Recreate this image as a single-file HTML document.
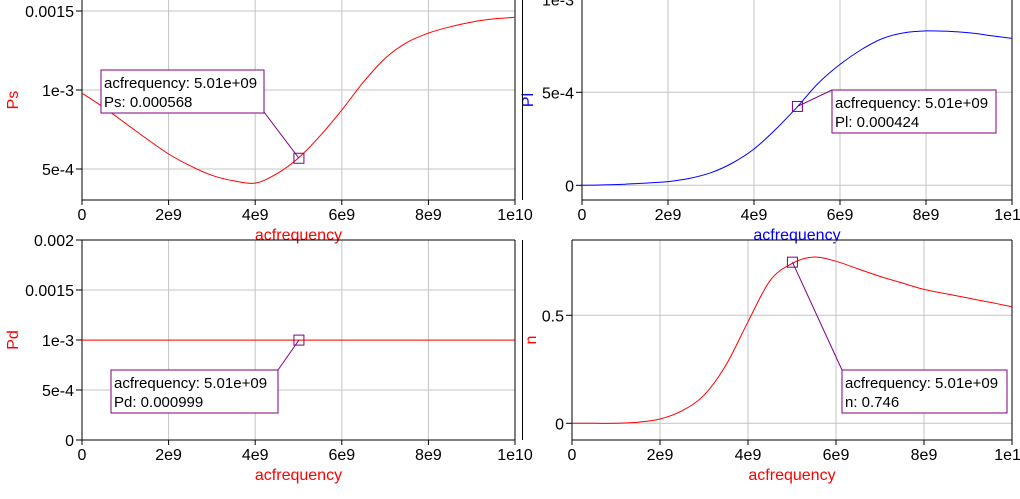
<!DOCTYPE html>
<html><head><meta charset="utf-8">
<style>
html,body{margin:0;padding:0;background:#fff;}
svg{display:block;font-family:"Liberation Sans",Arial,sans-serif;}
</style></head>
<body>
<svg id="chart" width="1020" height="499" viewBox="0 0 1020 499" xmlns="http://www.w3.org/2000/svg"></svg>
<script>
const xCategories = [0,0.5,1,1.5,2,2.5,3,3.5,4,4.5,5,5.5,6,6.5,7,7.5,8,8.5,9,9.5,10]; // GHz
const psValues = [0.00098,0.00089,0.00079,0.00069,0.000595,0.00052,0.00046,0.000425,0.000411,0.00047,0.00057,0.00071,0.000873,0.00105,0.0012,0.0013,0.00136,0.0014,0.00143,0.00145,0.00146];
const plValues = [0,0.000002,0.000006,0.000012,0.00002,0.000037,0.000068,0.00012,0.000195,0.0003,0.00042,0.00055,0.00065,0.00073,0.00079,0.00082,0.00083,0.000828,0.00082,0.000805,0.00079];
const pdValues = [0.000999,0.000999,0.000999,0.000999,0.000999,0.000999,0.000999,0.000999,0.000999,0.000999,0.000999,0.000999,0.000999,0.000999,0.000999,0.000999,0.000999,0.000999,0.000999,0.000999,0.000999];
const nValues = [0,0,0,0.005,0.02,0.058,0.13,0.27,0.47,0.66,0.74,0.77,0.75,0.715,0.68,0.65,0.62,0.6,0.58,0.56,0.54];
const xTickValues = [0,2,4,6,8,10];
const xTickLabels = ["0","2e9","4e9","6e9","8e9","1e10"];
const psTicks = [0.0005,0.001,0.0015], psTickLabels = ["5e-4","1e-3","0.0015"];
const plTicks = [0,0.0005,0.001], plTickLabels = ["0","5e-4","1e-3"];
const pdTicks = [0,0.0005,0.001,0.0015,0.002], pdTickLabels = ["0","5e-4","1e-3","0.0015","0.002"];
const nTicks = [0,0.5], nTickLabels = ["0","0.5"];
const markerX = 5.01;
const psMarker = 0.000568, plMarker = 0.000424, pdMarker = 0.000999, nMarker = 0.746;

const NS="http://www.w3.org/2000/svg";
const svg=document.getElementById('chart');
function mk(tag,attrs,parent){const e=document.createElementNS(NS,tag);for(const k in attrs)e.setAttribute(k,attrs[k]);(parent||svg).appendChild(e);return e;}
function smooth(P){
  let d='M'+P[0][0].toFixed(1)+','+P[0][1].toFixed(1);
  for(let i=0;i<P.length-1;i++){
    const p0=P[Math.max(0,i-1)],p1=P[i],p2=P[i+1],p3=P[Math.min(P.length-1,i+2)];
    const c1=[p1[0]+(p2[0]-p0[0])/6,p1[1]+(p2[1]-p0[1])/6];
    const c2=[p2[0]-(p3[0]-p1[0])/6,p2[1]-(p3[1]-p1[1])/6];
    d+=' C'+c1[0].toFixed(1)+','+c1[1].toFixed(1)+' '+c2[0].toFixed(1)+','+c2[1].toFixed(1)+' '+p2[0].toFixed(1)+','+p2[1].toFixed(1);
  }
  return d;
}

function panel(p){
  const g=mk('g',{});
  
  
  const sx=v=>p.x0+(v-0)/10*(p.x1-p.x0);
  const sy=v=>p.yz+(v-p.v0)*(p.yz2-p.yz)/(p.v1-p.v0);
  xTickValues.forEach((v,i)=>{
    const x=sx(v);
    if(i>0&&i<xTickValues.length-1){const l=mk('line',{x1:x,y1:p.top,x2:x,y2:p.bot,stroke:'#c4c4c4','stroke-width':1},g);
      }
    mk('line',{x1:x,y1:p.bot,x2:x,y2:p.bot+5,stroke:'#000'},g);
    const t=mk('text',{x:x,y:p.bot+20,'font-size':16,'text-anchor':'middle',fill:'#000'},g);
    t.textContent=xTickLabels[i];
    
  });
  p.ticks.forEach((v,i)=>{
    const y=sy(v);
    const l=mk('line',{x1:p.x0,y1:y,x2:p.x1,y2:y,stroke:'#c4c4c4'},g);
    
    mk('line',{x1:p.x0-6,y1:y,x2:p.x0,y2:y,stroke:'#000'},g);
    const t=mk('text',{x:p.x0-8,y:y+6,'font-size':16,'text-anchor':'end',fill:'#000'},g);
    t.textContent=p.tickLabels[i];
    
  });
  mk('line',{x1:p.x0,y1:p.top,x2:p.x0,y2:p.bot,stroke:'#000'},g);
  mk('line',{x1:p.x0,y1:p.bot,x2:p.x1,y2:p.bot,stroke:'#000'},g);
  mk('line',{x1:p.x1,y1:p.top,x2:p.x1,y2:p.bot,stroke:'#000'},g);
  if(p.topLine) mk('line',{x1:p.x0,y1:p.top,x2:p.x1,y2:p.top,stroke:'#000'},g);
  const P=xCategories.map((x,i)=>[sx(x),sy(p.values[i])]);
  const pl=mk('path',{d:smooth(P),fill:'none',stroke:p.color,'stroke-width':1},g);
  
  const xt=mk('text',{x:(p.x0+p.x1)/2,y:p.bot+40,'font-size':16,'text-anchor':'middle',fill:p.color},g);
  xt.textContent='acfrequency';
  
  const yt=mk('text',{x:0,y:0,'font-size':16,'text-anchor':'middle',fill:p.color,transform:`translate(${p.ytx},${(p.top+p.bot)/2}) rotate(-90)`},g);
  yt.textContent=p.name==='pl'?'Pl':(p.name==='ps'?'Ps':(p.name==='pd'?'Pd':'n'));
  
  const mx=sx(markerX), my=sy(p.marker);
  const b=p.box;
  const lead=mk('line',{x1:mx,y1:my,x2:b.lx,y2:b.ly,stroke:'#800080'},g);
  
  const m=mk('rect',{x:mx-5,y:my-5,width:10,height:10,fill:'none',stroke:'#800080'},g);
  
  const r=mk('rect',{x:b.x,y:b.y,width:b.w,height:43,fill:'#fff',stroke:'#800080'},g);
  
  const t1=mk('text',{x:b.x+3,y:b.y+18,'font-size':15,fill:'#000'},g);
  t1.textContent='acfrequency: 5.01e+09';
  
  const t2=mk('text',{x:b.x+3,y:b.y+37,'font-size':15,fill:'#000'},g);
  t2.textContent=p.tipLabel;
  
}

panel({name:'ps',x0:82,x1:515,top:0,bot:200,yz:169,v0:0.0005,yz2:90,v1:0.001,ticks:psTicks,tickLabels:psTickLabels,values:psValues,color:'#ff0000',ytx:18,marker:psMarker,tipLabel:'Ps: 0.000568',box:{x:101,y:70,w:163,lx:264,ly:112}});
panel({name:'pl',x0:582,x1:1012,top:0,bot:200,yz:185.3,v0:0,yz2:92.3,v1:0.0005,ticks:plTicks,tickLabels:plTickLabels,values:plValues,color:'#0000ff',ytx:533,marker:plMarker,tipLabel:'Pl: 0.000424',box:{x:832,y:90,w:164,lx:832,ly:90}});
panel({name:'pd',x0:82,x1:515,top:240,bot:440,yz:440,v0:0,yz2:240,v1:0.002,ticks:pdTicks,tickLabels:pdTickLabels,values:pdValues,color:'#ff0000',ytx:18,topLine:true,marker:pdMarker,tipLabel:'Pd: 0.000999',box:{x:111,y:370,w:167,lx:278,ly:370}});
panel({name:'n',x0:572,x1:1012,top:240,bot:440,yz:423.3,v0:0,yz2:315.3,v1:0.5,ticks:nTicks,tickLabels:nTickLabels,values:nValues,color:'#ff0000',ytx:536,topLine:true,marker:nMarker,tipLabel:'n: 0.746',box:{x:842,y:370,w:165,lx:842,ly:370}});
mk('line',{x1:522.5,y1:0,x2:522.5,y2:200,stroke:'#000'});
mk('line',{x1:522.5,y1:240,x2:522.5,y2:440,stroke:'#000'});
</script>
</body></html>
